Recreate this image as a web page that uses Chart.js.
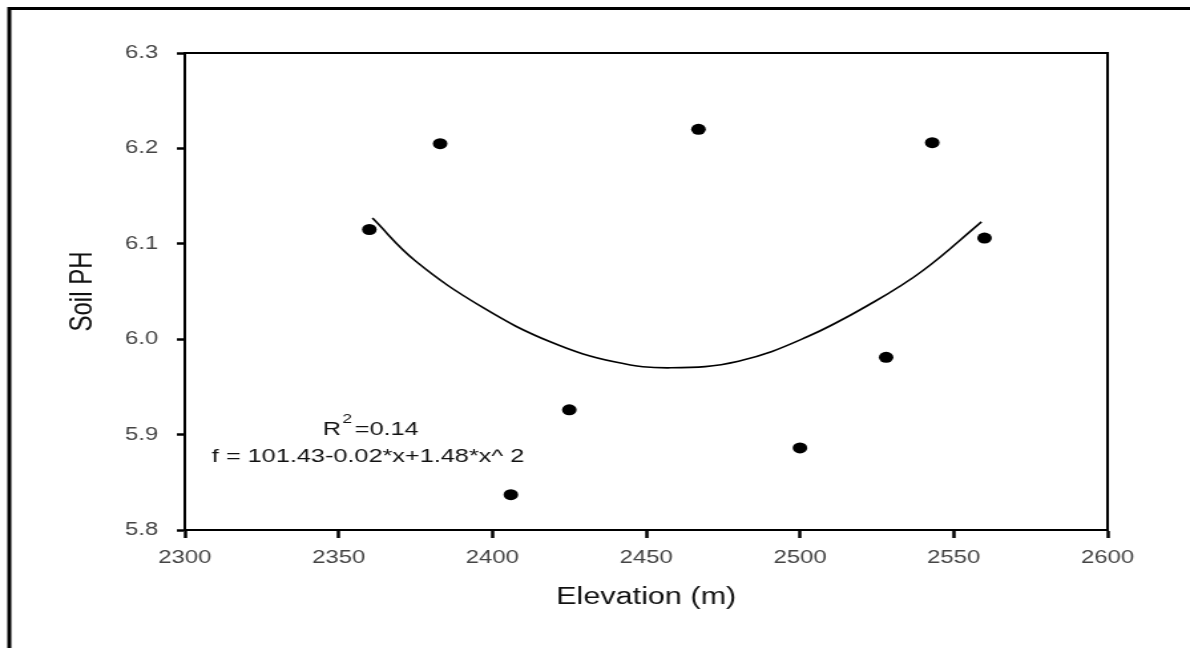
<!DOCTYPE html>
<html>
<head>
<meta charset="utf-8">
<script src="https://cdn.jsdelivr.net/npm/chart.js@4.4.1/dist/chart.umd.min.js"></script>
<style>
  html, body { margin: 0; padding: 0; background: #fff; overflow: hidden; }
  /* the original figure is a stretched bitmap, so draw narrow and widen it */
  #soilChart { display: block; transform-origin: 0 0; transform: scaleX(1.3296); }
</style>
</head>
<body>
<canvas id="soilChart" width="895" height="648"></canvas>
<script>
// sampled sites
const elevation = [2360, 2383, 2406, 2425, 2467, 2500, 2528, 2543, 2560];
const soilPH = [6.115, 6.205, 5.837, 5.926, 6.220, 5.886, 5.981, 6.206, 6.106];

// fitted curve
const fitElevation = [2361, 2375, 2397, 2419, 2440, 2458, 2480, 2502, 2524, 2540, 2559];
const fitPH = [6.127, 6.082, 6.033, 5.997, 5.976, 5.970, 5.977, 6.002, 6.039, 6.072, 6.123];

const xTicks = [2300, 2350, 2400, 2450, 2500, 2550, 2600];
const yTicks = [5.8, 5.9, 6.0, 6.1, 6.2, 6.3];

const fontName = '"Liberation Sans", Arial, sans-serif';

// outer frame + box around plot + regression text
const extras = {
    id: 'extras',
    beforeDraw(chart) {
        const ctx = chart.ctx;
        ctx.save();
        ctx.fillStyle = '#fff';
        ctx.fillRect(0, 0, chart.width, chart.height);
        ctx.strokeStyle = '#000';
        ctx.lineWidth = 3;
        ctx.beginPath();
        ctx.moveTo(7, chart.height);
        ctx.lineTo(7, 8.5);
        ctx.lineTo(chart.width, 8.5);
        ctx.stroke();
        ctx.restore();
    },
    afterDraw(chart) {
        const ctx = chart.ctx;
        const a = chart.chartArea;
        const xs = chart.scales.x;
        const ys = chart.scales.y;
        ctx.save();
        ctx.strokeStyle = '#000';
        ctx.lineWidth = 2;
        ctx.beginPath();
        ctx.moveTo(a.left, a.top);
        ctx.lineTo(a.right, a.top);
        ctx.lineTo(a.right, a.bottom);
        ctx.stroke();

        ctx.fillStyle = '#111';
        ctx.textBaseline = 'alphabetic';
        ctx.font = '19px ' + fontName;
        let x = xs.getPixelForValue(2344.9);
        let y = ys.getPixelForValue(5.8996);
        ctx.fillText('R', x, y);
        x += ctx.measureText('R').width + 1;
        ctx.font = '13px ' + fontName;
        ctx.fillText('2', x, y - 12);
        x += ctx.measureText('2').width + 2;
        ctx.font = '19px ' + fontName;
        ctx.fillText('=0.14', x, y);

        ctx.fillText('f = 101.43-0.02*x+1.48*x^ 2', xs.getPixelForValue(2308.8), ys.getPixelForValue(5.8713));
        ctx.restore();
    }
};

const soilCtx = document.getElementById('soilChart').getContext('2d');
const soilChart = new Chart(soilCtx, {
    type: 'scatter',
    data: {
        datasets: [{
            label: 'Soil PH',
            data: elevation.map((e, i) => ({ x: e, y: soilPH[i] })),
            backgroundColor: '#000',
            borderColor: '#000',
            pointStyle: 'circle',
            pointRadius: 5.5,
            borderWidth: 0
        }, {
            label: 'fit',
            type: 'line',
            data: fitElevation.map((e, i) => ({ x: e, y: fitPH[i] })),
            borderColor: '#000',
            borderWidth: 1.6,
            pointRadius: 0,
            fill: false,
            tension: 0.4
        }]
    },
    options: {
        responsive: false,
        animation: false,
        devicePixelRatio: 1,
        layout: { padding: { left: 0, top: 53, right: 62, bottom: 0 } },
        plugins: {
            legend: { display: false },
            tooltip: { enabled: false }
        },
        scales: {
            x: {
                type: 'linear',
                min: 2300,
                max: 2600,
                afterBuildTicks: s => { s.ticks = xTicks.map(v => ({ value: v })); },
                afterFit: s => { s.height = 118; },
                border: { color: '#000', width: 2 },
                grid: { drawOnChartArea: false, tickLength: 8, tickColor: '#000', tickWidth: 2.5 },
                ticks: {
                    color: '#444',
                    font: { family: fontName, size: 18 },
                    padding: 9,
                    maxRotation: 0,
                    callback: v => String(v)
                },
                title: {
                    display: true,
                    text: 'Elevation (m)',
                    color: '#111',
                    font: { family: fontName, size: 23 },
                    padding: { top: 0, bottom: 37 }
                }
            },
            y: {
                min: 5.8,
                max: 6.3,
                afterBuildTicks: s => { s.ticks = yTicks.map(v => ({ value: v })); },
                afterFit: s => { s.width = 139; },
                border: { color: '#000', width: 2 },
                grid: { drawOnChartArea: false, tickLength: 6, tickColor: '#000', tickWidth: 2.5 },
                ticks: {
                    color: '#444',
                    font: { family: fontName, size: 18 },
                    padding: 14,
                    callback: v => v.toFixed(1)
                },
                title: {
                    display: true,
                    text: 'Soil PH',
                    color: '#111',
                    font: { family: fontName, size: 24 },
                    padding: { top: 48, bottom: 0 }
                }
            }
        }
    },
    plugins: [extras]
});
</script>
</body>
</html>
